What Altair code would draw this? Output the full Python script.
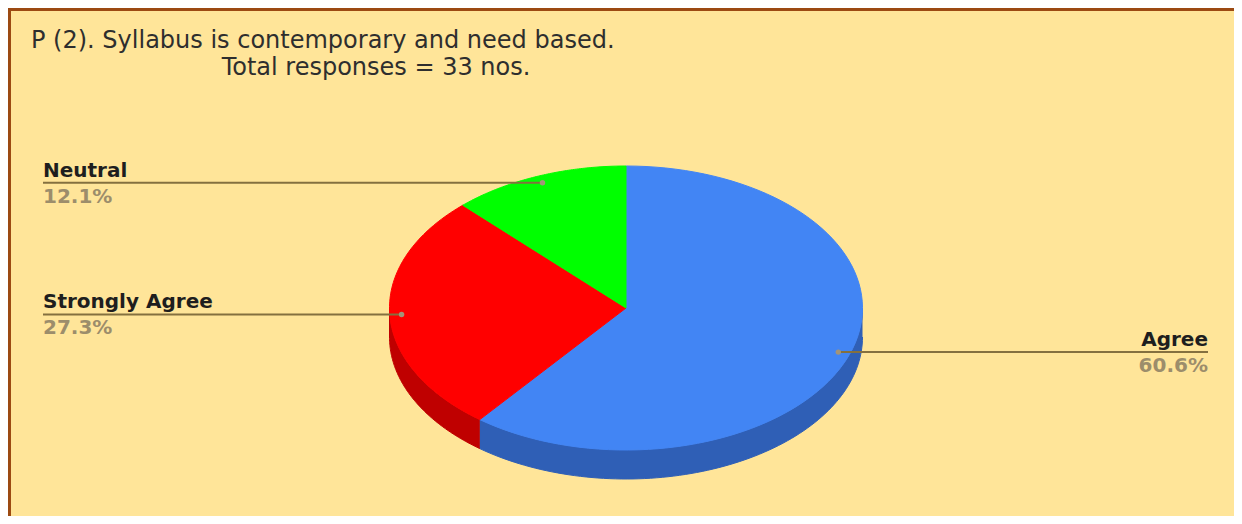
import altair as alt
import pandas as pd

# ---- data ----
categories = ["Agree", "Strongly Agree", "Neutral"]
responses = [20, 9, 4]          # 20/33 = 60.6 %, 9/33 = 27.3 %, 4/33 = 12.1 %
title_lines = ["P (2). Syllabus is contemporary and need based.",
               "Total responses = 33 nos."]

# ---- styles ----
top_colors = ["#4285F4", "#FF0000", "#00FF00"]
side_colors = ["#2F5FB6", "#BF0000", "#00BF00"]
BG = "#FFE599"
BORDER = "#9C4A12"
LEADER = "#84703F"
NAME_COLOR = "#1E1E1E"
PCT_COLOR = "#9C8D6B"
TITLE_COLOR = "#2E2E2E"

# ---- layout ----
W, H = 1226, 508
CX, CY = 618, 300          # pie centre (px in the view)
RX = 236.5                 # horizontal radius (px)
TILT = 142 / RX            # vertical / horizontal radius ratio
DEPTH = 29 / RX            # thickness of the 3D side
N = 90                     # points per arc
XS = alt.Scale(domain=[-CX / RX, (W - CX) / RX], nice=False, zero=False)
YS = alt.Scale(domain=[-(H - CY) / RX, CY / RX], nice=False, zero=False)
LX_LEFT = (35 - CX) / RX
LX_RIGHT = (1200 - CX) / RX

df = pd.DataFrame({"category": categories, "responses": responses,
                   "idx": list(range(len(categories)))})

base = alt.Chart(df).transform_window(
    cum="sum(responses)", sort=[alt.SortField("idx")], frame=[None, 0]
).transform_joinaggregate(
    total="sum(responses)"
).transform_calculate(
    a0="2*PI*(datum.cum - datum.responses)/datum.total",
    a1="2*PI*datum.cum/datum.total",
)

top_scale = alt.Scale(domain=categories, range=top_colors)
side_scale = alt.Scale(domain=categories, range=side_colors)

# top faces of the slices
top = base.transform_calculate(
    k=f"sequence(0, {N + 3})"
).transform_flatten(["k"]).transform_calculate(
    ang=f"datum.a0 + (datum.a1 - datum.a0) * clamp(datum.k - 1, 0, {N}) / {N}",
    px=f"(datum.k == 0 || datum.k == {N + 2}) ? 0 : sin(datum.ang)",
    py=f"(datum.k == 0 || datum.k == {N + 2}) ? 0 : {TILT} * cos(datum.ang)",
).mark_line(filled=True, strokeWidth=1, strokeJoin="round").encode(
    x=alt.X("px:Q", scale=XS, axis=None),
    y=alt.Y("py:Q", scale=YS, axis=None),
    order=alt.Order("k:Q"),
    color=alt.Color("category:N", scale=top_scale, legend=None),
    stroke=alt.Stroke("category:N", scale=top_scale, legend=None),
)

# visible front side walls
side = base.transform_calculate(
    b0="max(datum.a0, PI/2)",
    b1="min(datum.a1, 3*PI/2)",
).transform_filter("datum.b1 > datum.b0").transform_calculate(
    k=f"sequence(0, {2 * N + 2})"
).transform_flatten(["k"]).transform_calculate(
    t=f"datum.k <= {N} ? datum.k / {N} : ({2 * N + 1} - datum.k) / {N}",
    ang="datum.b0 + (datum.b1 - datum.b0) * datum.t",
    px="sin(datum.ang)",
    py=f"{TILT} * cos(datum.ang) - (datum.k > {N} ? {DEPTH} : 0)",
).mark_line(filled=True, strokeWidth=1, strokeJoin="round").encode(
    x=alt.X("px:Q", scale=XS, axis=None),
    y=alt.Y("py:Q", scale=YS, axis=None),
    order=alt.Order("k:Q"),
    color=alt.Color("category:N", scale=side_scale, legend=None),
    stroke=alt.Stroke("category:N", scale=side_scale, legend=None),
)

# leader lines and labels
lead = base.transform_calculate(
    m="(datum.a0 + datum.a1) / 2",
    ex="0.95 * sin(datum.m)",
    ey=f"0.95 * {TILT} * cos(datum.m)",
    side="sin(datum.m) < 0 ? 'left' : 'right'",
    lx=f"sin(datum.m) < 0 ? {LX_LEFT} : {LX_RIGHT}",
    pct="format(datum.responses / datum.total, '.1%')",
)

rules = lead.mark_rule(color=LEADER, strokeWidth=2).encode(
    x=alt.X("ex:Q", scale=XS, axis=None),
    x2="lx:Q",
    y=alt.Y("ey:Q", scale=YS, axis=None),
)
dots = lead.mark_circle(size=30, color="#A39478", opacity=1).encode(
    x=alt.X("ex:Q", scale=XS, axis=None),
    y=alt.Y("ey:Q", scale=YS, axis=None),
)

def label_layer(side_name, align, field, dy, color, weight):
    return lead.transform_filter(f"datum.side == '{side_name}'").mark_text(
        align=align, baseline="alphabetic", dy=dy, font="DejaVu Sans",
        fontSize=20, fontWeight=weight, color=color,
    ).encode(
        x=alt.X("lx:Q", scale=XS, axis=None),
        y=alt.Y("ey:Q", scale=YS, axis=None),
        text=f"{field}:N",
    )

names_l = label_layer("left", "left", "category", -6, NAME_COLOR, "bold")
names_r = label_layer("right", "right", "category", -6, NAME_COLOR, "bold")
pct_l = label_layer("left", "left", "pct", 20, PCT_COLOR, "bold")
pct_r = label_layer("right", "right", "pct", 20, PCT_COLOR, "bold")

# title (two lines)
title_df = pd.DataFrame({"line": title_lines, "row": [0, 1]})
t1 = alt.Chart(title_df).transform_filter("datum.row == 0").mark_text(
    align="left", baseline="alphabetic", font="DejaVu Sans", fontSize=24,
    color=TITLE_COLOR,
).encode(x=alt.value(23), y=alt.value(40), text="line:N")
t2 = alt.Chart(title_df).transform_filter("datum.row == 1").mark_text(
    align="center", baseline="alphabetic", font="DejaVu Sans", fontSize=24,
    color=TITLE_COLOR,
).encode(x=alt.value(368), y=alt.value(67), text="line:N")

# frame border (top and left)
bdf = pd.DataFrame({"b": [0]})
border_top = alt.Chart(bdf).mark_rule(color=BORDER, strokeWidth=3).encode(
    x=alt.value(0), x2=alt.value(W), y=alt.value(1.5))
border_left = alt.Chart(bdf).mark_rule(color=BORDER, strokeWidth=3).encode(
    x=alt.value(1.5), y=alt.value(0), y2=alt.value(H))

chart = alt.layer(
    border_top, border_left, t1, t2, side, top, rules, dots,
    names_l, names_r, pct_l, pct_r,
).resolve_scale(
    color="independent", stroke="independent"
).properties(
    width=W, height=H, background=BG, padding=0,
    autosize=alt.AutoSizeParams(type="none"),
).configure_view(stroke=None)

chart.save("out.html", embed_options={"renderer": "svg", "actions": False})
